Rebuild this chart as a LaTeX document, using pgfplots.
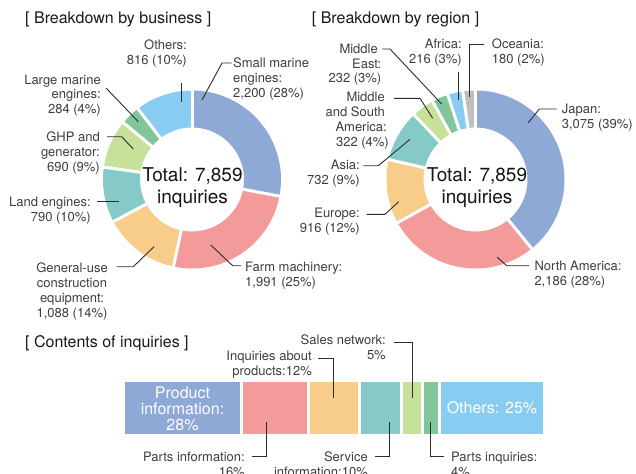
\documentclass[border=0pt]{standalone}
\usepackage{pgfplots}
\pgfplotsset{compat=1.18}
\usepackage{fontspec}
\setmainfont{TeX Gyre Heros}
\definecolor{cBlue}{RGB}{143,169,214}
\definecolor{cPink}{RGB}{243,155,154}
\definecolor{cOrange}{RGB}{248,205,137}
\definecolor{cTeal}{RGB}{134,202,200}
\definecolor{cLGreen}{RGB}{199,224,154}
\definecolor{cGreen}{RGB}{129,198,155}
\definecolor{cSky}{RGB}{137,204,242}
\definecolor{cGray}{RGB}{191,191,191}
\definecolor{labc}{RGB}{62,62,62}
\definecolor{leadc}{RGB}{45,45,45}
\definecolor{titc}{RGB}{25,25,25}
% donut slice: cx cy from to total colour (from/to are cumulative counts)
\newcommand{\slice}[6]{%
  \addplot[draw=#6, line width=37bp, samples=90, variable=\t,
    domain=90-#4/#5*360:90-#3/#5*360]
    ({#1+70.5*cos(\t)},{#2-70.5*sin(\t)});}
\newcommand{\gap}[4]{%
  \addplot[draw=white, line width=3bp, samples=2, variable=\s, domain=48:94]
    ({#1+\s*cos(90-#3/#4*360)},{#2-\s*sin(90-#3/#4*360)});}
\newcommand{\lab}[4]{\node[font=\fontsize{13bp}{15bp}\selectfont, text=labc, inner sep=0pt, anchor=#3] at (axis cs:#1,#2) {#4};}
\newcommand{\ttl}[3]{\node[font=\fontsize{16bp}{19bp}\selectfont, text=titc, inner sep=0pt, anchor=base west] at (axis cs:#1,#2) {#3};}
\newcommand{\tot}[3]{\node[font=\fontsize{19bp}{23bp}\selectfont, text=black!92, inner sep=0pt, anchor=base] at (axis cs:#1,#2) {#3};}
\newcommand{\btx}[3]{\node[font=\fontsize{16bp}{16bp}\selectfont, text=white, inner sep=0pt, anchor=base] at (axis cs:#1,#2) {#3};}
\begin{document}
\begin{tikzpicture}
% ---------- stacked bar: contents of inquiries (%)
\begin{axis}[hide axis, clip=false, x=4.21bp, y=1bp, xmin=-29.335, xmax=121.734,
  ymin=0, ymax=474, y dir=reverse, xbar stacked, bar width=55bp,
  at={(0,0)}, anchor=south west]
\addplot[fill=cBlue, draw=white, line width=3bp] coordinates {(28,408)};
\addplot[fill=cPink, draw=white, line width=3bp] coordinates {(16,408)};
\addplot[fill=cOrange, draw=white, line width=3bp] coordinates {(12,408)};
\addplot[fill=cTeal, draw=white, line width=3bp] coordinates {(10,408)};
\addplot[fill=cLGreen, draw=white, line width=3bp] coordinates {(5,408)};
\addplot[fill=cGreen, draw=white, line width=3bp] coordinates {(4,408)};
\addplot[fill=cSky, draw=white, line width=3bp] coordinates {(25,408)};
\end{axis}
% ---------- donuts and annotations
\begin{axis}[hide axis, clip=false, x=1bp, y=1bp, xmin=0, xmax=636, ymin=0, ymax=474,
  y dir=reverse, at={(0,0)}, anchor=south west,
  lead/.style={draw=leadc, line width=0.9bp}]
% business: 2200, 1991, 1088, 790, 690, 284, 816 (total 7859)
\slice{192}{179.5}{0}{2200}{7859}{cBlue}
\slice{192}{179.5}{2200}{4191}{7859}{cPink}
\slice{192}{179.5}{4191}{5279}{7859}{cOrange}
\slice{192}{179.5}{5279}{6069}{7859}{cTeal}
\slice{192}{179.5}{6069}{6759}{7859}{cLGreen}
\slice{192}{179.5}{6759}{7043}{7859}{cGreen}
\slice{192}{179.5}{7043}{7859}{7859}{cSky}
\gap{192}{179.5}{0}{7859}
\gap{192}{179.5}{2200}{7859}
\gap{192}{179.5}{4191}{7859}
\gap{192}{179.5}{5279}{7859}
\gap{192}{179.5}{6069}{7859}
\gap{192}{179.5}{6759}{7859}
\gap{192}{179.5}{7043}{7859}
% region: 3075, 2186, 916, 732, 322, 232, 216, 180 (total 7859)
\slice{475.5}{179.5}{0}{3075}{7859}{cBlue}
\slice{475.5}{179.5}{3075}{5261}{7859}{cPink}
\slice{475.5}{179.5}{5261}{6177}{7859}{cOrange}
\slice{475.5}{179.5}{6177}{6909}{7859}{cTeal}
\slice{475.5}{179.5}{6909}{7231}{7859}{cLGreen}
\slice{475.5}{179.5}{7231}{7463}{7859}{cGreen}
\slice{475.5}{179.5}{7463}{7679}{7859}{cSky}
\slice{475.5}{179.5}{7679}{7859}{7859}{cGray}
\gap{475.5}{179.5}{0}{7859}
\gap{475.5}{179.5}{3075}{7859}
\gap{475.5}{179.5}{5261}{7859}
\gap{475.5}{179.5}{6177}{7859}
\gap{475.5}{179.5}{6909}{7859}
\gap{475.5}{179.5}{7231}{7859}
\gap{475.5}{179.5}{7463}{7859}
\gap{475.5}{179.5}{7679}{7859}
% titles
\ttl{25}{23}{[ Breakdown by business ]}
\ttl{311.7}{23}{[ Breakdown by region ]}
\ttl{25}{347}{[ Contents of inquiries ]}
% totals
\tot{192.5}{181.5}{Total: 7,859}
\tot{192.5}{203}{inquiries}
\tot{477}{181.5}{Total: 7,859}
\tot{477}{203}{inquiries}
% business labels
\lab{187}{49}{base east}{Others:}
\lab{187}{64}{base east}{816 (10\%)}
\addplot[lead] coordinates {(181.7,82.7) (181.7,101.7)};
\lab{233}{67.5}{base west}{Small marine}
\lab{233}{82.5}{base west}{engines:}
\lab{233}{97.5}{base west}{2,200 (28\%)}
\addplot[lead] coordinates {(231.5,63) (222,63) (202,100)};
\lab{101}{84}{base east}{Large marine}
\lab{101}{98.5}{base east}{engines:}
\lab{101}{113}{base east}{284 (4\%)}
\addplot[lead] coordinates {(106,88) (138.3,121.7)};
\lab{100}{141}{base east}{GHP and}
\lab{100}{156}{base east}{generator:}
\lab{100}{171}{base east}{690 (9\%)}
\addplot[lead] coordinates {(107,136.7) (121.7,136.7) (133.3,149)};
\lab{91}{206}{base east}{Land engines:}
\lab{91}{221}{base east}{790 (10\%)}
\addplot[lead] coordinates {(96.7,201.7) (119.3,201.7)};
\lab{72}{272}{base}{General-use}
\lab{72}{287}{base}{construction}
\lab{72}{302}{base}{equipment:}
\lab{72}{317}{base}{1,088 (14\%)}
\addplot[lead] coordinates {(116.7,266.7) (133.3,266.7) (154,246.7)};
\lab{245}{271}{base west}{Farm machinery:}
\lab{245}{286}{base west}{1,991 (25\%)}
\addplot[lead] coordinates {(241,265.7) (232.7,265.7) (210.7,245)};
% region labels
\lab{378}{53}{base east}{Middle}
\lab{381.5}{68}{base east}{East:}
\lab{381.5}{82.5}{base east}{232 (3\%)}
\addplot[lead] coordinates {(382,49) (390,49) (441.7,104)};
\lab{462}{48}{base east}{Africa:}
\lab{462}{63}{base east}{216 (3\%)}
\addplot[lead] coordinates {(458.3,71.7) (458.3,100)};
\lab{491.7}{48}{base west}{Oceania:}
\lab{491.7}{63}{base west}{180 (2\%)}
\addplot[lead] coordinates {(484.3,44.3) (469.3,44.3) (469.3,96.7)};
\lab{385}{101.5}{base east}{Middle}
\lab{385}{116.5}{base east}{and South}
\lab{387}{131.5}{base east}{America:}
\lab{389}{146.5}{base east}{322 (4\%)}
\addplot[lead] coordinates {(394,98.3) (420,98.3) (432.7,118.3)};
\lab{360}{169.5}{base east}{Asia:}
\lab{360}{184.5}{base east}{732 (9\%)}
\addplot[lead] coordinates {(363.3,165.7) (378.3,165.7) (410,139.3)};
\lab{360}{217}{base east}{Europe:}
\lab{360}{232}{base east}{916 (12\%)}
\addplot[lead] coordinates {(366.7,214.3) (385,214.3) (398.7,201.7)};
\lab{561.7}{113}{base west}{Japan:}
\lab{561.7}{128}{base west}{3,075 (39\%)}
\addplot[lead] coordinates {(556.7,109) (539.3,109) (528.3,122.7)};
\lab{534.3}{270.3}{base west}{North America:}
\lab{534.3}{285.3}{base west}{2,186 (28\%)}
\addplot[lead] coordinates {(529.3,265.7) (506.7,265.7) (497.3,257.3)};
% contents labels
\btx{182.5}{398.3}{Product}
\btx{182.5}{414.3}{information:}
\btx{182.5}{430}{28\%}
\btx{492}{413}{Others: 25\%}
\lab{312}{360.7}{base east}{Inquiries about}
\lab{312}{375.3}{base east}{products:12\%}
\addplot[lead] coordinates {(318,358) (333,358) (333,398)};
\lab{386}{344.7}{base east}{Sales network:}
\lab{386}{359}{base east}{5\%}
\addplot[lead] coordinates {(394,342) (412,342) (412,398)};
\lab{245}{461.3}{base east}{Parts information:}
\lab{245}{476.3}{base east}{16\%}
\addplot[lead] coordinates {(252,456.7) (266,456.7) (266,421.7)};
\lab{368}{461.3}{base east}{Service}
\lab{368}{476.3}{base east}{information:10\%}
\addplot[lead] coordinates {(375,456.7) (389,456.7) (389,421.7)};
\lab{451}{461.3}{base west}{Parts inquiries:}
\lab{451}{476.3}{base west}{4\%}
\addplot[lead] coordinates {(430,421.7) (430,456.7) (444,456.7)};
\end{axis}
\pgfresetboundingbox
\path[use as bounding box] (0,0) rectangle (636bp,474bp);
\end{tikzpicture}
\end{document}
